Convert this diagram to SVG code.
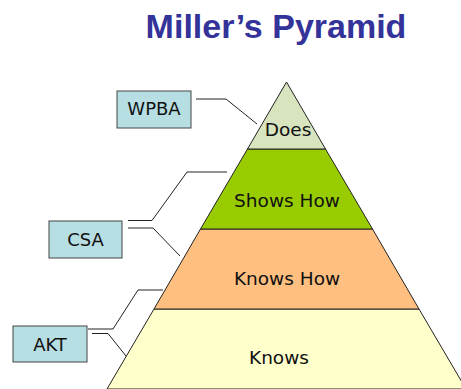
<svg xmlns="http://www.w3.org/2000/svg" width="461" height="389" viewBox="0 0 461 389">
  <style>
    .title { font-family: "Liberation Sans", Arial, sans-serif; font-weight: bold; font-size: 34px; fill: #333399; }
    .band { stroke: #222; stroke-width: 1; }
    .lbl { font-family: "DejaVu Sans", Verdana, sans-serif; font-size: 18.5px; fill: #111; text-anchor: middle; }
    .box rect { fill: #B7DEE3; stroke: #444; stroke-width: 1; }
    .box text { font-family: "DejaVu Sans", Verdana, sans-serif; font-size: 18px; fill: #111; text-anchor: middle; }
    .conn { fill: none; stroke: #222; stroke-width: 1; }
  </style>
  <rect width="461" height="389" fill="#fff"/>
  <text class="title" x="276" y="38" text-anchor="middle">Miller’s Pyramid</text>

  <!-- pyramid tiers, bottom to top -->
  <g id="knows">
    <polygon class="band" points="154,309 419,309 466,389 107,389" fill="#FFFFCC"/>
    <text class="lbl" x="279" y="364">Knows</text>
  </g>
  <g id="knows-how">
    <polygon class="band" points="200.5,229 372.5,229 419,309 154,309" fill="#FFBF80"/>
    <text class="lbl" x="287" y="285">Knows How</text>
  </g>
  <g id="shows-how">
    <polygon class="band" points="247.5,149 325.5,149 372.5,229 200.5,229" fill="#99CC00"/>
    <text class="lbl" x="287" y="207">Shows How</text>
  </g>
  <g id="does">
    <polygon class="band" points="286.5,82 325.5,149 247.5,149" fill="#D7E4BD"/>
    <text class="lbl" x="288" y="136">Does</text>
  </g>

  <!-- assessment boxes -->
  <g id="wpba" class="box">
    <rect x="117" y="91" width="74" height="37"/>
    <text x="154" y="114.5">WPBA</text>
  </g>
  <g id="csa" class="box">
    <rect x="49" y="221" width="73" height="37"/>
    <text x="85.5" y="245.5">CSA</text>
  </g>
  <g id="akt" class="box">
    <rect x="13" y="326" width="74" height="36"/>
    <text x="50" y="350.5">AKT</text>
  </g>

  <!-- bracket lines from boxes to tiers -->
  <g id="connectors">
    <polyline class="conn" points="196,99 226,99 257,124"/>
    <polyline class="conn" points="128,220.5 152,220.5 187,172 227,172"/>
    <polyline class="conn" points="128,228 153,228 180,256"/>
    <polyline class="conn" points="88,329 113,329 138,290 163,290"/>
    <polyline class="conn" points="92,333.5 108,333.5 126,356"/>
  </g>
</svg>
